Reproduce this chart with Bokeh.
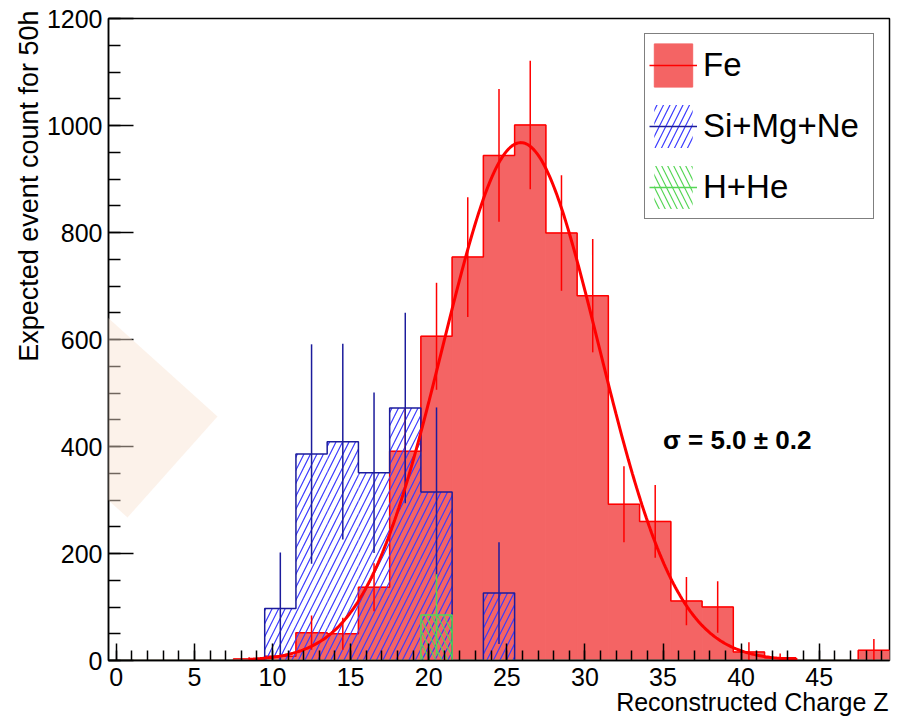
import numpy as np
from bokeh.plotting import figure
from bokeh.models import (Range1d, FixedTicker, Legend, LegendItem, Label, Title,
                          PolyAnnotation, ColumnDataSource)
from bokeh.embed import file_html
from bokeh.resources import INLINE

# ---------------- data ----------------
bin_centers = [0.5, 2.5, 4.5, 6.5, 8.5, 10.5, 12.5, 14.5, 16.5, 18.5, 20.5, 22.5,
               24.5, 26.5, 28.5, 30.5, 32.5, 34.5, 36.5, 38.5, 40.5, 42.5, 44.5,
               46.5, 48.5]
bin_width = 2.0

fe_counts = [0, 0, 0, 0, 3, 8, 52, 50, 137, 391, 606, 754,
             944, 1001, 799, 682, 292, 260, 111, 100, 16, 5, 0,
             0, 19]
fe_errors = [0, 0, 0, 0, 3, 6, 32, 30, 45, 80, 100, 112,
             124, 120, 108, 106, 71, 68, 45, 48, 18, 8, 0,
             0, 21]

si_counts = [0, 0, 0, 0, 0, 97, 386, 409, 351, 472, 315, 0,
             126, 0, 0, 0, 0, 0, 0, 0, 0, 0, 0,
             0, 0]
si_errors = [0, 0, 0, 0, 0, 105, 205, 183, 150, 178, 158, 0,
             95, 0, 0, 0, 0, 0, 0, 0, 0, 0, 0,
             0, 0]

hhe_counts = [0, 0, 0, 0, 0, 0, 0, 0, 0, 0, 85, 0,
              0, 0, 0, 0, 0, 0, 0, 0, 0, 0, 0,
              0, 0]
hhe_errors = [0, 0, 0, 0, 0, 0, 0, 0, 0, 0, 76, 0,
              0, 0, 0, 0, 0, 0, 0, 0, 0, 0, 0,
              0, 0]

# Gaussian fit to Fe
fit_amplitude = 968.0
fit_mean = 25.9
fit_sigma = 5.0
fit_sigma_err = 0.2
fit_range = (8.5, 43.6)

x_major_ticks = [0, 5, 10, 15, 20, 25, 30, 35, 40, 45]
x_minor_ticks = list(range(0, 50))
y_major_ticks = [0, 200, 400, 600, 800, 1000, 1200]
y_minor_ticks = list(range(0, 1201, 50))

series_labels = ["Fe", "Si+Mg+Ne", "H+He"]
x_title = "Reconstructed Charge Z"
y_title = "Expected event count for 50h"

# ---------------- layout constants ----------------
W, H = 903, 717
FL, FR, FT, FB = 108, 889, 18, 660   # frame edges in canvas px
FONT = "Liberation Sans"

RED = "#ff0000"
FE_FILL = "#f46464"
BLUE_LINE = "#1c1c9c"
BLUE_HATCH = "#3a3aff"
GREEN = "#55d655"


def src(counts, errors):
    left = [c - bin_width / 2 for c in bin_centers]
    right = [c + bin_width / 2 for c in bin_centers]
    lo = [v - e for v, e in zip(counts, errors)]
    hi = [v + e for v, e in zip(counts, errors)]
    return ColumnDataSource(dict(x=bin_centers, left=left, right=right,
                                 top=counts, bottom=[0] * len(counts),
                                 lo=lo, hi=hi))


def step_xy(counts):
    xs = [c - bin_width / 2 for c in bin_centers] + [bin_centers[-1] + bin_width / 2]
    ys = list(counts) + [counts[-1]]
    return xs, ys


p = figure(width=W, height=H, x_range=Range1d(-0.5, 49.5), y_range=Range1d(0, 1200),
           output_backend="svg", toolbar_location=None,
           min_border_left=FL, min_border_right=W - FR,
           min_border_top=FT, min_border_bottom=H - FB)
p.xgrid.visible = False
p.ygrid.visible = False
p.outline_line_color = "black"
p.outline_line_width = 1.5
p.background_fill_color = "white"
p.border_fill_color = "white"

# axes
for ax in (p.xaxis[0], p.yaxis[0]):
    ax.axis_line_color = "black"
    ax.axis_line_width = 1.5
    ax.major_tick_line_color = "black"
    ax.minor_tick_line_color = "black"
    ax.major_tick_line_width = 1.5
    ax.minor_tick_line_width = 1.5
    ax.major_tick_out = 0
    ax.minor_tick_out = 0
    ax.major_label_text_font = FONT
    ax.major_label_text_font_size = "25px"
    ax.major_label_text_color = "black"

p.xaxis.ticker = FixedTicker(ticks=x_major_ticks, minor_ticks=x_minor_ticks)
p.xaxis.major_tick_in = 17
p.xaxis.minor_tick_in = 10
p.xaxis.major_label_standoff = 7
p.yaxis.ticker = FixedTicker(ticks=y_major_ticks, minor_ticks=y_minor_ticks)
p.yaxis.major_tick_in = 25
p.yaxis.minor_tick_in = 12
p.yaxis.major_label_standoff = 6

# axis titles, ROOT style (right-aligned at the axis end)
p.add_layout(Title(text=x_title, align="right", text_font=FONT, text_font_size="25px",
                   text_font_style="normal", text_color="black",
                   standoff=-6, offset=1), "below")
p.add_layout(Title(text=y_title, align="right", text_font=FONT, text_font_size="27px",
                   text_font_style="normal", text_color="black",
                   standoff=0, offset=-8), "left")

fe_src = src(fe_counts, fe_errors)
si_src = src(si_counts, si_errors)
hhe_src = src(hhe_counts, hhe_errors)

# Fe histogram
fe_quad = p.quad(left="left", right="right", top="top", bottom="bottom", source=fe_src,
                 fill_color=FE_FILL, fill_alpha=1.0, line_color=FE_FILL, line_width=1)
fx, fy = step_xy(fe_counts)
p.step(fx, fy, mode="after", line_color=RED, line_width=1.5)

# Si+Mg+Ne histogram
si_quad = p.quad(left="left", right="right", top="top", bottom="bottom", source=si_src,
                 fill_color=None, line_color=None, hatch_pattern="/",
                 hatch_color=BLUE_HATCH, hatch_scale=13, hatch_weight=1.2)
sx, sy = step_xy(si_counts)
p.step(sx, sy, mode="after", line_color=BLUE_LINE, line_width=1.5)

# H+He histogram
hhe_quad = p.quad(left="left", right="right", top="top", bottom="bottom", source=hhe_src,
                  fill_color=None, line_color=None, hatch_pattern="\\",
                  hatch_color=GREEN, hatch_scale=12, hatch_weight=1.2)
hx, hy = step_xy(hhe_counts)
p.step(hx, hy, mode="after", line_color=GREEN, line_width=1.5)

# error bars
fe_err = p.segment(x0="x", x1="x", y0="lo", y1="hi", source=fe_src, line_color=RED, line_width=1.5)
si_err = p.segment(x0="x", x1="x", y0="lo", y1="hi", source=si_src, line_color=BLUE_LINE, line_width=1.5)
hhe_err = p.segment(x0="x", x1="x", y0="lo", y1="hi", source=hhe_src, line_color=GREEN, line_width=1.5)

# Gaussian fit curve
zz = np.linspace(fit_range[0], fit_range[1], 400)
gauss = fit_amplitude * np.exp(-0.5 * ((zz - fit_mean) / fit_sigma) ** 2)
p.line(zz, gauss, line_color=RED, line_width=3)

# legend
legend = Legend(items=[
    LegendItem(label=series_labels[0], renderers=[fe_quad, fe_err]),
    LegendItem(label=series_labels[1], renderers=[si_quad, si_err]),
    LegendItem(label=series_labels[2], renderers=[hhe_quad, hhe_err]),
], location="top_right", margin=15)
legend.label_text_font = FONT
legend.label_text_font_size = "33px"
legend.label_text_color = "black"
legend.glyph_width = 48
legend.glyph_height = 54
legend.label_standoff = 6
legend.label_width = 166
legend.padding = 4
legend.spacing = 7
legend.border_line_color = "black"
legend.border_line_width = 1.5
legend.background_fill_color = "white"
legend.background_fill_alpha = 1.0
p.add_layout(legend)

# fit annotation
p.add_layout(Label(x=35.0, y=413, text=f"σ = {fit_sigma:.1f}  ± {fit_sigma_err:.1f}",
                   text_font=FONT, text_font_size="26px", text_font_style="bold",
                   text_baseline="middle", text_align="left", text_color="black"))


def to_frame(pts):
    return [x - FL for x, _ in pts], [FB - y for _, y in pts]


# translucent overlay shape seen over the left part of the screenshot
dx, dy = to_frame([(-60, 166), (217, 416), (127, 517), (-60, 349)])
p.add_layout(PolyAnnotation(xs=dx, ys=dy, xs_units="screen", ys_units="screen",
                            fill_color="#f8e2d0", fill_alpha=0.45, line_color=None,
                            level="overlay"))

open("out.html", "w").write(file_html(p, INLINE))
